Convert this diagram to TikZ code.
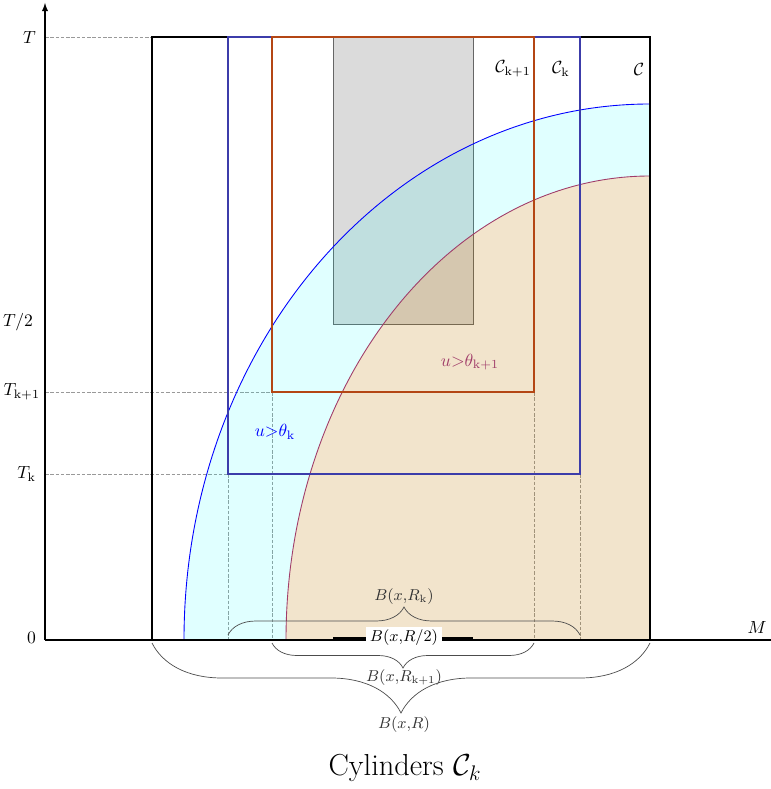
\documentclass[tikz,border=0pt]{standalone}
\usepackage{amsmath,amssymb}
\usepackage{tikz}
\usetikzlibrary{arrows.meta,positioning,decorations.pathreplacing}
\definecolor{boxblue}{RGB}{60,60,170}
\definecolor{boxorange}{RGB}{180,70,20}
\definecolor{arcpurple}{RGB}{160,60,105}
\definecolor{ringcyan}{RGB}{0,255,255}
\definecolor{tanfg}{RGB}{190,120,0}

\begin{document}
\begin{tikzpicture}[>=latex]
\tikzstyle{guide}=[black!40, dash pattern=on 2pt off 1pt, very thin]
\tikzstyle{lbl}=[inner sep=1pt]
\tikzstyle{brc}=[decorate, black!70, thin]
\tikzstyle{bracelbl}=[font=\small, black!80, inner sep=1pt]

\useasboundingbox (-0.9,-2.98) rectangle (14.52,12.8);

% corners of the cylinders
\coordinate (o) at (0,0);
\coordinate (cL) at (2.14,0);
\coordinate (cR) at (12.1,12.06);
\coordinate (kL) at (3.66,3.32);
\coordinate (kR) at (10.7,12.06);
\coordinate (k1L) at (4.54,4.96);
\coordinate (k1R) at (9.78,12.06);
\coordinate (hL) at (5.76,6.32);
\coordinate (hR) at (8.56,12.06);

% half cylinder
\draw[fill=black!14, draw=black!60] (hL) rectangle (hR);

% dashed guides
\draw[guide] (0,12.06) -- (2.14,12.06);
\draw[guide] (0,4.96) -- (k1L);
\draw[guide] (0,3.32) -- (kL);
\draw[guide] (kL) -- (3.66,0);
\draw[guide] (k1L) -- (4.54,0);
\draw[guide] (9.78,4.96) -- (9.78,0);
\draw[guide] (10.7,3.32) -- (10.7,0);

% level sets
\fill[ringcyan, fill opacity=0.12] (2.78,0) arc[start angle=180, end angle=90, x radius=9.32, y radius=10.72]
  -- (12.1,9.28) arc[start angle=90, end angle=180, x radius=7.28, y radius=9.28] -- cycle;
\fill[tanfg, fill opacity=0.2] (4.82,0) arc[start angle=180, end angle=90, x radius=7.28, y radius=9.28]
  -- (12.1,0) -- cycle;
\draw[blue, line width=0.5pt] (2.78,0) arc[start angle=180, end angle=90, x radius=9.32, y radius=10.72];
\draw[arcpurple, line width=0.5pt] (4.82,0) arc[start angle=180, end angle=90, x radius=7.28, y radius=9.28];

% cylinders
\draw[line width=1pt] (cL) rectangle (cR);
\draw[boxblue, line width=0.8pt] (kL) rectangle (kR);
\draw[boxorange, line width=1pt] (k1L) rectangle (k1R);

% axes
\draw[->, line width=0.6pt] (o) -- (0,12.74);
\draw[line width=0.6pt] (o) -- (14.52,0);

% ball B(x,R/2)
\draw[line width=2.3pt] (5.76,0.02) -- (8.56,0.02);
\node[fill=white, font=\small, inner sep=2pt] (bRhalf) at (7.18,0.04) {$B(x{,}R/2)$};

% braces
\draw[brc, decoration={brace, amplitude=0.56cm}] (3.66,0.1) -- (10.7,0.1);
\draw[brc, decoration={brace, amplitude=0.5cm}] (9.78,-0.06) -- (4.54,-0.06);
\draw[brc, decoration={brace, amplitude=1.4cm}] (12.1,-0.06) -- (2.14,-0.06);
\node[bracelbl] (bRk) at (7.18,0.86) {$B(x{,}R_{\mathrm{k}})$};
\node[bracelbl] (bRk1) at (7.18,-0.76) {$B(x{,}R_{\mathrm{k+1}})$};
\node[bracelbl] (bR) at (7.18,-1.7) {$B(x{,}R)$};

% axis labels
\node[lbl, anchor=east] (tT) at (-0.14,12.06) {$T$};
\node[lbl, anchor=east] (tHalf) at (-0.2,6.36) {$T/2$};
\node[lbl, anchor=east] (tK1) at (-0.06,4.96) {$T_{\mathrm{k+1}}$};
\node[lbl, anchor=east] (tK) at (-0.14,3.32) {$T_{\mathrm{k}}$};
\node[lbl, anchor=east] (tZero) at (-0.14,0.04) {$0$};
\node[lbl] (mM) at (14.24,0.26) {$M$};

% cylinder labels
\node[lbl] (cylK1) at (9.36,11.42) {$\mathcal{C}_{\mathrm{k+1}}$};
\node[lbl] (cylK) at (10.32,11.42) {$\mathcal{C}_{\mathrm{k}}$};
\node[lbl] (cyl) at (11.88,11.42) {$\mathcal{C}$};
\node[lbl, blue] (uK) at (4.6,4.16) {$u{>}\theta_{\mathrm{k}}$};
\node[lbl, arcpurple] (uK1) at (8.5,5.56) {$u{>}\theta_{\mathrm{k+1}}$};

% caption
\node (title) at (7.2,-2.56) {\LARGE Cylinders $\mathcal{C}_k$};

\end{tikzpicture}
\end{document}
